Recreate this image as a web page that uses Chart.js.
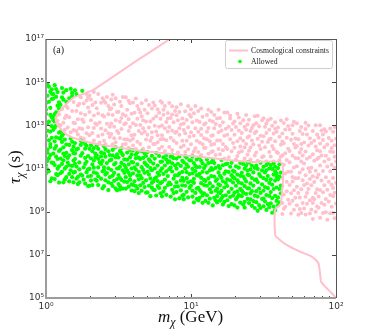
<!DOCTYPE html>
<html lang="en">
<head>
<meta charset="UTF-8">
<title>Lifetime vs mass scan</title>
<style>
  html, body { margin: 0; padding: 0; background: #fff; }
  #wrap { width: 374px; height: 336px; }
</style>
<script src="https://cdn.jsdelivr.net/npm/chart.js"></script>
</head>
<body>
<div id="wrap"><canvas id="chart" width="374" height="336"></canvas></div>
<script>
// axis ticks
const xTicks = [1, 10, 100];
const xTickLabels = ['10⁰', '10¹', '10²'];
const yTicks = [1e5, 1e7, 1e9, 1e11, 1e13, 1e15, 1e17];
const yTickLabels = ['10⁵', '10⁷', '10⁹', '10¹¹', '10¹³', '10¹⁵', '10¹⁷'];

// cosmological constraint curve (GeV, s)
const cosmoMass = [7.16, 3.98, 2.12, 1.55, 1.32, 1.22, 1.17, 1.19, 1.26, 1.41, 1.55, 2.0, 2.63, 3.98, 6.3, 11.5, 18.6, 26.9, 42.2, 41.7, 38.0, 38.0, 39.0, 45.7, 56.5, 68, 75.5, 77.6, 78.9, 84, 93.3, 100];
const cosmoTau = [1e17, 7.6e15, 4.4e14, 1.9e14, 7.1e13, 4e13, 2e13, 1.1e13, 7e12, 3.5e12, 2.6e12, 1.6e12, 1.12e12, 7.4e11, 5.2e11, 3.5e11, 2.4e11, 2.0e11, 1.8e11, 2.45e9, 1.2e9, 8.5e7, 6.6e7, 2.9e7, 1.4e7, 8.3e6, 4.2e6, 1.4e6, 5.75e5, 3.4e5, 1.7e5, 1e5];

// scan points, [log10(m / GeV), log10(tau / s)]
const allowedLog = [
[0.03,10.41],[0.04,10.54],[0.00,10.78],[0.02,10.87],[0.01,10.96],[0.00,11.15],[0.04,11.27],[0.01,11.35],[0.02,11.48],[0.03,11.62],[0.01,11.73],[0.01,11.88],[0.03,12.00],[0.03,12.13],[0.02,12.31],[0.04,12.42],[0.00,12.51],[0.03,12.71],[0.01,12.75],[0.04,12.96],[0.01,13.08],[0.02,13.17],[0.04,13.38],[0.03,13.48],[0.00,13.53],[0.00,13.72],[0.03,13.81],[0.00,14.03],[0.02,14.09],[0.04,14.22],[0.01,14.37],[0.04,14.46],[0.03,14.56],[0.04,14.67],[0.02,14.79],[0.01,14.90],
[0.09,10.35],[0.06,10.51],[0.08,10.69],[0.07,10.74],[0.08,10.99],[0.09,11.10],[0.06,11.16],[0.05,11.26],[0.08,11.44],[0.07,11.55],[0.05,11.69],[0.09,11.81],[0.06,11.92],[0.07,12.04],[0.06,12.26],[0.09,12.40],[0.07,12.44],[0.09,12.66],[0.05,12.79],[0.06,12.89],[0.07,12.99],[0.06,13.18],[0.05,13.25],[0.05,13.42],[0.06,13.52],[0.07,13.60],[0.09,13.77],[0.08,13.91],[0.09,14.07],[0.05,14.24],[0.07,14.32],[0.05,14.45],[0.08,14.54],[0.07,14.68],[0.06,14.86],
[0.12,10.36],[0.13,10.49],[0.14,10.60],[0.10,10.78],[0.11,10.84],[0.13,10.99],[0.14,11.08],[0.11,11.21],[0.12,11.38],[0.10,11.46],[0.13,11.58],[0.12,11.69],[0.14,11.73],[0.10,11.88],[0.12,11.98],[0.14,12.11],[0.11,12.23],[0.13,12.34],[0.10,12.40],[0.11,12.51],[0.12,12.60],[0.10,12.70],[0.10,13.95],[0.14,14.09],[0.12,14.19],[0.11,14.30],[0.12,14.52],[0.14,14.63],[0.11,14.73],
[0.19,10.36],[0.16,10.40],[0.18,10.60],[0.16,10.75],[0.19,10.81],[0.17,10.92],[0.18,11.12],[0.16,11.15],[0.15,11.27],[0.19,11.37],[0.15,11.49],[0.16,11.61],[0.19,11.71],[0.18,11.85],[0.19,12.01],[0.16,12.09],[0.18,12.24],[0.17,12.39],[0.16,14.25],[0.18,14.36],[0.18,14.50],[0.17,14.69],
[0.22,10.28],[0.23,10.36],[0.21,10.53],[0.22,10.61],[0.24,10.72],[0.20,10.84],[0.23,10.96],[0.21,11.09],[0.20,11.22],[0.23,11.28],[0.20,11.44],[0.24,11.59],[0.20,11.70],[0.21,11.87],[0.22,11.92],[0.24,12.09],[0.20,12.18],[0.24,12.29],[0.21,14.45],[0.20,14.62],
[0.29,10.19],[0.27,10.30],[0.26,10.48],[0.29,10.63],[0.25,10.67],[0.28,10.83],[0.29,10.96],[0.26,11.05],[0.27,11.21],[0.28,11.31],[0.27,11.49],[0.29,11.58],[0.25,11.71],[0.27,11.92],[0.28,12.05],[0.27,12.14],[0.25,12.24],[0.25,14.60],
[0.30,10.20],[0.32,10.23],[0.31,10.44],[0.34,10.49],[0.31,10.66],[0.33,10.82],[0.30,10.98],[0.33,11.04],[0.32,11.19],[0.33,11.37],[0.31,11.47],[0.34,11.53],[0.34,11.69],[0.32,11.80],[0.30,11.91],[0.33,11.95],[0.31,12.08],
[0.39,10.08],[0.36,10.23],[0.35,10.43],[0.38,10.53],[0.36,10.64],[0.35,10.78],[0.39,10.87],[0.36,11.05],[0.38,11.21],[0.37,11.29],[0.39,11.35],[0.36,11.45],[0.38,11.56],[0.35,11.61],[0.38,11.75],[0.36,11.91],[0.35,12.07],
[0.43,10.00],[0.40,10.18],[0.43,10.36],[0.41,10.45],[0.44,10.60],[0.41,10.72],[0.42,10.79],[0.40,10.90],[0.43,11.01],[0.40,11.05],[0.42,11.25],[0.44,11.37],[0.41,11.55],[0.44,11.62],[0.40,11.70],[0.43,11.80],[0.41,11.90],[0.40,12.03],
[0.49,9.99],[0.48,10.08],[0.46,10.19],[0.45,10.30],[0.47,10.43],[0.49,10.51],[0.46,10.67],[0.47,10.80],[0.45,10.93],[0.49,11.00],[0.47,11.19],[0.48,11.25],[0.45,11.41],[0.48,11.52],[0.46,11.61],[0.49,11.65],[0.46,11.86],[0.48,11.98],
[0.51,10.03],[0.53,10.07],[0.51,10.18],[0.50,10.28],[0.54,10.39],[0.52,10.47],[0.51,10.56],[0.50,10.70],[0.54,10.80],[0.53,10.92],[0.50,11.00],[0.51,11.08],[0.54,11.16],[0.52,11.26],[0.54,11.42],[0.50,11.51],[0.53,11.62],[0.52,11.72],[0.51,11.81],[0.52,11.93],
[0.59,9.98],[0.55,10.07],[0.57,10.16],[0.59,10.26],[0.56,10.37],[0.58,10.48],[0.55,10.60],[0.58,10.67],[0.57,10.80],[0.56,10.90],[0.59,11.00],[0.55,11.04],[0.57,11.19],[0.59,11.30],[0.56,11.41],[0.58,11.52],[0.59,11.65],[0.56,11.74],[0.58,11.86],
[0.64,9.86],[0.61,9.95],[0.63,10.07],[0.62,10.19],[0.60,10.24],[0.61,10.41],[0.64,10.50],[0.63,10.67],[0.60,10.77],[0.64,10.85],[0.62,10.95],[0.61,11.05],[0.63,11.19],[0.60,11.28],[0.62,11.47],[0.64,11.50],[0.62,11.64],[0.63,11.75],[0.60,11.84],
[0.69,9.88],[0.66,9.97],[0.68,10.14],[0.65,10.22],[0.67,10.33],[0.69,10.45],[0.66,10.55],[0.65,10.67],[0.68,10.80],[0.67,10.94],[0.66,11.06],[0.69,11.18],[0.68,11.27],[0.65,11.44],[0.67,11.49],[0.69,11.58],[0.68,11.69],[0.66,11.80],
[0.72,9.72],[0.70,9.89],[0.74,10.01],[0.73,10.11],[0.71,10.20],[0.73,10.33],[0.74,10.40],[0.72,10.54],[0.71,10.72],[0.70,10.85],[0.73,10.92],[0.72,11.02],[0.70,11.12],[0.74,11.23],[0.72,11.33],[0.71,11.42],[0.73,11.59],[0.70,11.76],
[0.76,9.75],[0.79,9.85],[0.75,10.00],[0.78,10.10],[0.77,10.19],[0.79,10.32],[0.77,10.42],[0.75,10.53],[0.76,10.59],[0.78,10.70],[0.77,10.80],[0.79,10.89],[0.75,11.00],[0.77,11.14],[0.79,11.31],[0.75,11.46],[0.78,11.58],[0.76,11.72],
[0.80,9.71],[0.83,9.78],[0.81,9.93],[0.82,10.10],[0.84,10.23],[0.80,10.37],[0.82,10.48],[0.84,10.65],[0.81,10.75],[0.83,10.87],[0.80,11.01],[0.82,11.14],[0.84,11.27],[0.80,11.32],[0.83,11.42],[0.81,11.52],[0.83,11.62],
[0.89,9.57],[0.86,9.70],[0.88,9.86],[0.87,10.01],[0.89,10.16],[0.86,10.27],[0.85,10.35],[0.88,10.53],[0.89,10.68],[0.87,10.86],[0.85,10.97],[0.86,11.04],[0.89,11.14],[0.87,11.24],[0.85,11.33],[0.88,11.48],[0.86,11.55],[0.87,11.64],
[0.92,9.62],[0.94,9.74],[0.90,9.91],[0.93,9.99],[0.91,10.17],[0.94,10.22],[0.90,10.36],[0.93,10.44],[0.94,10.57],[0.91,10.69],[0.92,10.77],[0.94,10.84],[0.90,10.99],[0.93,11.12],[0.91,11.22],[0.94,11.36],[0.90,11.46],[0.92,11.56],
[0.95,9.58],[0.98,9.66],[0.95,9.78],[0.97,9.92],[0.99,10.10],[0.96,10.20],[0.98,10.36],[0.95,10.43],[0.97,10.55],[0.99,10.74],[0.97,10.83],[0.96,11.00],[0.98,11.08],[0.97,11.19],[0.95,11.29],[0.99,11.38],[0.97,11.50],[0.96,11.58],
[1.02,9.43],[1.04,9.59],[1.01,9.70],[1.03,9.87],[1.01,9.97],[1.04,10.07],[1.00,10.20],[1.02,10.33],[1.00,10.41],[1.02,10.52],[1.04,10.69],[1.01,10.78],[1.03,10.88],[1.01,10.98],[1.04,11.06],[1.03,11.12],[1.02,11.25],[1.00,11.37],[1.04,11.42],[1.01,11.55],
[1.08,9.41],[1.05,9.52],[1.06,9.64],[1.08,9.75],[1.09,9.85],[1.07,9.91],[1.06,10.00],[1.05,10.10],[1.09,10.23],[1.07,10.32],[1.09,10.47],[1.07,10.57],[1.05,10.67],[1.06,10.75],[1.08,10.85],[1.09,11.02],[1.06,11.07],[1.08,11.24],[1.07,11.36],[1.06,11.51],
[1.12,9.41],[1.10,9.50],[1.13,9.60],[1.11,9.76],[1.14,9.90],[1.13,10.04],[1.11,10.20],[1.13,10.32],[1.10,10.42],[1.12,10.54],[1.14,10.65],[1.11,10.81],[1.13,10.91],[1.14,11.02],[1.10,11.13],[1.12,11.25],[1.14,11.29],[1.11,11.42],
[1.15,9.29],[1.18,9.43],[1.17,9.53],[1.16,9.64],[1.18,9.72],[1.19,9.90],[1.17,9.97],[1.18,10.07],[1.15,10.17],[1.19,10.27],[1.17,10.42],[1.18,10.50],[1.16,10.62],[1.19,10.82],[1.15,10.95],[1.17,11.03],[1.19,11.11],[1.16,11.25],[1.15,11.38],
[1.22,9.33],[1.23,9.45],[1.20,9.51],[1.21,9.62],[1.22,9.72],[1.24,9.76],[1.20,9.86],[1.21,9.96],[1.23,10.12],[1.20,10.22],[1.24,10.33],[1.22,10.41],[1.21,10.57],[1.20,10.66],[1.23,10.76],[1.24,10.87],[1.20,11.01],[1.22,11.15],[1.24,11.20],[1.21,11.39],
[1.26,9.26],[1.28,9.35],[1.25,9.53],[1.27,9.68],[1.29,9.74],[1.26,9.91],[1.28,10.06],[1.25,10.19],[1.29,10.35],[1.27,10.45],[1.25,10.50],[1.29,10.60],[1.28,10.69],[1.26,10.84],[1.29,10.89],[1.27,11.08],[1.25,11.23],[1.28,11.27],
[1.32,9.19],[1.30,9.29],[1.34,9.42],[1.31,9.57],[1.32,9.67],[1.33,9.77],[1.30,9.88],[1.32,9.94],[1.34,10.06],[1.31,10.20],[1.33,10.35],[1.32,10.45],[1.30,10.55],[1.34,10.66],[1.32,10.72],[1.30,10.85],[1.33,11.04],[1.31,11.10],[1.34,11.26],
[1.37,9.19],[1.36,9.33],[1.37,9.46],[1.39,9.59],[1.35,9.72],[1.38,9.82],[1.36,9.88],[1.35,9.98],[1.39,10.08],[1.37,10.18],[1.35,10.31],[1.38,10.40],[1.37,10.52],[1.36,10.63],[1.39,10.71],[1.35,10.80],[1.39,10.90],[1.37,10.99],[1.38,11.13],[1.36,11.21],[1.39,11.29],
[1.44,9.17],[1.42,9.27],[1.40,9.40],[1.43,9.49],[1.41,9.57],[1.44,9.74],[1.41,9.85],[1.42,9.95],[1.40,10.08],[1.43,10.21],[1.41,10.31],[1.44,10.47],[1.42,10.56],[1.40,10.69],[1.43,10.82],[1.41,10.96],[1.44,11.03],[1.42,11.13],[1.40,11.27],
[1.46,9.04],[1.48,9.17],[1.47,9.30],[1.45,9.44],[1.49,9.59],[1.46,9.70],[1.48,9.87],[1.45,9.95],[1.47,10.07],[1.49,10.26],[1.46,10.37],[1.45,10.50],[1.48,10.64],[1.47,10.74],[1.49,10.91],[1.46,10.98],[1.45,11.13],[1.48,11.27],
[1.52,9.08],[1.54,9.21],[1.50,9.25],[1.53,9.35],[1.51,9.48],[1.50,9.61],[1.54,9.73],[1.52,9.77],[1.50,9.97],[1.53,10.09],[1.51,10.14],[1.54,10.33],[1.52,10.47],[1.50,10.55],[1.53,10.65],[1.51,10.82],[1.52,10.92],[1.54,11.00],[1.50,11.08],[1.52,11.16],[1.53,11.25],
[1.56,8.95],[1.58,9.07],[1.57,9.24],[1.55,9.38],[1.59,9.50],[1.56,9.63],[1.58,9.73],[1.55,9.91],[1.57,10.05],[1.59,10.12],[1.56,10.25],[1.58,10.44],[1.55,10.50],[1.59,10.61],[1.57,10.72],[1.59,10.77],[1.58,10.88],[1.56,10.98],[1.58,11.08],[1.55,11.16],[1.57,11.24],
[1.60,9.30],[1.61,9.43],[1.60,9.66],[1.62,9.85],[1.61,10.05],[1.62,10.21],[1.60,10.50],[1.61,10.62],[1.62,10.81],[1.60,11.02],[1.61,11.20]
];

const excludedLog = [
[0.08,13.20],[0.09,13.50],[0.09,13.03],
[0.13,12.80],[0.12,13.12],[0.13,13.34],[0.14,13.46],[0.11,13.74],[0.10,13.00],[0.14,13.88],
[0.17,12.68],[0.19,12.78],[0.15,12.90],[0.19,13.12],[0.16,13.38],[0.18,13.66],[0.15,13.80],[0.19,14.08],
[0.24,12.44],[0.22,12.58],[0.21,12.74],[0.23,12.86],[0.20,13.10],[0.22,13.28],[0.24,13.56],[0.21,13.66],[0.22,13.92],[0.23,14.00],[0.24,14.30],
[0.26,12.39],[0.28,12.63],[0.25,12.83],[0.29,12.91],[0.26,13.15],[0.25,13.27],[0.27,13.49],[0.29,13.83],[0.26,14.01],[0.28,14.15],[0.29,14.29],[0.28,14.45],
[0.33,12.30],[0.30,12.54],[0.32,12.64],[0.33,12.88],[0.34,13.08],[0.31,13.24],[0.33,13.46],[0.30,13.62],[0.32,13.94],[0.34,14.06],[0.31,14.20],[0.30,14.38],[0.33,14.54],
[0.37,12.21],[0.36,12.51],[0.39,12.57],[0.38,12.85],[0.35,13.03],[0.37,13.13],[0.39,13.47],[0.36,13.55],[0.35,13.79],[0.38,14.05],[0.39,14.25],[0.36,14.45],
[0.41,12.13],[0.40,12.29],[0.44,12.46],[0.43,12.63],[0.41,12.77],[0.44,12.93],[0.42,13.07],[0.40,13.41],[0.43,13.51],[0.44,13.75],[0.43,13.90],[0.41,14.05],[0.40,14.13],[0.42,14.31],
[0.46,12.12],[0.48,12.22],[0.47,12.40],[0.45,12.60],[0.49,12.74],[0.47,12.94],[0.45,13.08],[0.48,13.24],[0.46,13.48],[0.49,13.62],[0.45,13.78],[0.47,13.96],[0.45,14.20],[0.48,14.26],[0.46,14.42],
[0.53,12.11],[0.54,12.35],[0.51,12.41],[0.50,12.65],[0.52,12.83],[0.54,13.05],[0.51,13.17],[0.52,13.34],[0.53,13.51],[0.50,13.63],[0.52,13.89],[0.51,14.09],[0.53,14.31],
[0.57,11.96],[0.55,12.14],[0.58,12.30],[0.56,12.34],[0.59,12.54],[0.57,12.74],[0.58,12.92],[0.55,13.10],[0.57,13.28],[0.55,13.44],[0.59,13.54],[0.56,13.72],[0.58,14.02],[0.57,14.14],[0.55,14.30],
[0.62,11.90],[0.60,12.07],[0.63,12.24],[0.60,12.38],[0.61,12.56],[0.64,12.74],[0.62,13.02],[0.60,13.10],[0.63,13.30],[0.61,13.58],[0.64,13.74],[0.63,13.90],[0.60,14.06],[0.62,14.24],
[0.67,11.92],[0.65,12.14],[0.69,12.34],[0.66,12.62],[0.68,12.70],[0.67,12.86],[0.65,13.02],[0.69,13.18],[0.67,13.24],[0.66,13.42],[0.65,13.60],[0.68,13.72],[0.66,14.02],[0.69,14.16],
[0.71,11.98],[0.74,12.14],[0.72,12.28],[0.73,12.42],[0.70,12.56],[0.73,12.68],[0.71,12.90],[0.72,13.18],[0.74,13.30],[0.70,13.56],[0.73,13.78],[0.71,13.94],[0.74,14.06],
[0.78,11.92],[0.75,12.14],[0.77,12.22],[0.79,12.36],[0.77,12.54],[0.76,12.72],[0.78,12.94],[0.75,12.98],[0.79,13.30],[0.76,13.42],[0.78,13.58],[0.77,13.75],[0.75,13.92],[0.79,14.12],
[0.82,11.81],[0.80,12.01],[0.83,12.31],[0.81,12.37],[0.80,12.54],[0.84,12.71],[0.82,12.87],[0.80,12.99],[0.83,13.15],[0.84,13.32],[0.81,13.49],[0.84,13.57],[0.81,13.72],[0.82,13.89],[0.80,14.05],
[0.87,11.86],[0.85,12.00],[0.88,12.28],[0.86,12.42],[0.89,12.66],[0.87,12.76],[0.85,12.92],[0.88,13.14],[0.86,13.34],[0.87,13.50],[0.89,13.66],[0.87,13.88],[0.85,14.04],
[0.91,11.74],[0.93,11.98],[0.90,12.18],[0.94,12.28],[0.92,12.56],[0.90,12.70],[0.92,12.87],[0.93,13.04],[0.91,13.24],[0.94,13.32],[0.90,13.47],[0.92,13.62],[0.90,13.84],[0.93,13.98],
[0.96,11.77],[0.98,11.89],[0.95,12.07],[0.97,12.29],[0.99,12.47],[0.96,12.63],[0.95,12.78],[0.98,12.91],[0.95,13.09],[0.97,13.25],[0.99,13.49],[0.96,13.65],[0.98,13.89],
[1.01,11.64],[1.02,11.80],[1.03,11.94],[1.00,12.12],[1.04,12.28],[1.02,12.52],[1.00,12.68],[1.03,12.86],[1.01,13.14],[1.04,13.22],[1.00,13.40],[1.02,13.56],[1.00,13.74],[1.03,13.90],
[1.07,11.62],[1.05,11.76],[1.09,11.95],[1.08,12.12],[1.06,12.20],[1.09,12.40],[1.07,12.55],[1.05,12.70],[1.07,12.84],[1.09,13.04],[1.06,13.16],[1.08,13.40],[1.05,13.66],[1.07,13.78],
[1.12,11.68],[1.14,11.76],[1.10,11.96],[1.14,12.10],[1.13,12.26],[1.11,12.36],[1.14,12.52],[1.11,12.70],[1.12,12.88],[1.10,13.10],[1.13,13.22],[1.11,13.48],[1.14,13.62],[1.12,13.72],
[1.17,11.62],[1.15,11.80],[1.19,11.90],[1.16,12.14],[1.18,12.30],[1.15,12.54],[1.19,12.68],[1.16,12.86],[1.17,13.06],[1.15,13.18],[1.18,13.32],[1.16,13.48],[1.19,13.72],
[1.23,11.46],[1.20,11.66],[1.22,11.84],[1.24,12.00],[1.22,12.14],[1.20,12.30],[1.23,12.52],[1.21,12.76],[1.24,12.84],[1.20,12.98],[1.22,13.14],[1.20,13.34],[1.23,13.60],
[1.26,11.52],[1.28,11.80],[1.25,11.90],[1.29,12.18],[1.27,12.36],[1.25,12.56],[1.28,12.78],[1.26,12.94],[1.29,13.08],[1.27,13.32],[1.27,13.46],[1.25,13.60],
[1.31,11.42],[1.32,11.58],[1.33,11.74],[1.30,11.96],[1.34,12.02],[1.32,12.26],[1.34,12.40],[1.30,12.56],[1.33,12.76],[1.31,12.92],[1.34,13.10],[1.30,13.18],[1.33,13.36],[1.32,13.54],
[1.37,11.46],[1.39,11.64],[1.35,11.80],[1.37,11.97],[1.38,12.14],[1.36,12.28],[1.39,12.44],[1.35,12.64],[1.38,12.80],[1.37,12.94],[1.39,13.04],[1.36,13.24],[1.38,13.48],
[1.41,11.42],[1.44,11.60],[1.40,11.82],[1.41,11.97],[1.43,12.12],[1.42,12.30],[1.40,12.50],[1.44,12.64],[1.41,12.74],[1.42,12.88],[1.43,13.00],[1.40,13.26],[1.44,13.42],
[1.46,11.36],[1.49,11.52],[1.45,11.74],[1.48,11.90],[1.47,12.06],[1.49,12.24],[1.46,12.38],[1.48,12.52],[1.45,12.72],[1.47,12.96],[1.45,13.10],[1.49,13.24],[1.46,13.44],
[1.52,11.33],[1.50,11.57],[1.54,11.77],[1.51,11.99],[1.53,12.23],[1.54,12.36],[1.50,12.49],[1.52,12.64],[1.54,12.79],[1.51,12.93],[1.52,13.08],[1.53,13.23],[1.50,13.33],
[1.57,11.32],[1.55,11.56],[1.59,11.76],[1.57,11.90],[1.56,12.04],[1.58,12.26],[1.55,12.38],[1.57,12.62],[1.59,12.70],[1.58,12.84],[1.56,12.98],[1.58,13.14],[1.55,13.30],
[1.61,11.38],[1.62,11.55],[1.60,11.72],[1.62,12.10],[1.61,12.47],[1.60,12.90],[1.62,13.22],
[1.63,8.89],[1.64,9.13],[1.65,9.23],[1.63,9.40],[1.67,9.55],[1.64,9.79],[1.66,9.95],[1.63,10.19],[1.66,10.39],[1.63,10.57],[1.65,10.77],[1.67,10.85],[1.64,11.17],[1.66,11.39],[1.63,11.61],[1.65,11.71],[1.67,11.91],[1.64,12.17],[1.63,12.25],[1.66,12.43],[1.63,12.62],[1.65,12.81],[1.67,12.97],[1.64,13.11],[1.66,13.28],
[1.69,8.91],[1.71,9.09],[1.68,9.37],[1.70,9.51],[1.72,9.65],[1.69,9.85],[1.71,9.99],[1.68,10.23],[1.70,10.40],[1.72,10.55],[1.70,10.61],[1.69,10.85],[1.71,11.05],[1.68,11.29],[1.72,11.49],[1.70,11.59],[1.68,11.81],[1.72,11.97],[1.71,12.13],[1.69,12.33],[1.72,12.39],[1.70,12.61],[1.68,12.81],[1.70,13.00],[1.71,13.17],
[1.74,8.86],[1.76,8.94],[1.75,9.12],[1.73,9.30],[1.77,9.40],[1.75,9.66],[1.74,9.86],[1.76,10.04],[1.73,10.16],[1.77,10.46],[1.74,10.56],[1.75,10.82],[1.77,10.96],[1.73,11.10],[1.76,11.32],[1.74,11.48],[1.77,11.60],[1.75,11.74],[1.76,11.90],[1.73,12.04],[1.76,12.14],[1.74,12.36],[1.77,12.60],[1.75,12.74],[1.76,12.92],[1.73,13.10],
[1.79,8.87],[1.82,8.91],[1.78,9.15],[1.80,9.37],[1.82,9.53],[1.79,9.69],[1.80,9.87],[1.81,10.05],[1.78,10.23],[1.80,10.31],[1.82,10.51],[1.79,10.69],[1.82,10.85],[1.81,11.01],[1.78,11.23],[1.80,11.45],[1.82,11.53],[1.79,11.79],[1.81,12.07],[1.78,12.20],[1.82,12.40],[1.80,12.58],[1.79,12.83],[1.81,12.99],[1.79,13.12],
[1.84,8.66],[1.86,9.00],[1.83,9.10],[1.87,9.24],[1.84,9.40],[1.85,9.58],[1.84,9.64],[1.86,9.86],[1.87,10.04],[1.83,10.22],[1.85,10.38],[1.87,10.58],[1.84,10.64],[1.86,10.90],[1.83,11.04],[1.85,11.36],[1.87,11.44],[1.84,11.66],[1.87,11.84],[1.86,12.02],[1.83,12.18],[1.85,12.28],[1.87,12.58],[1.84,12.74],[1.86,13.00],
[1.89,8.72],[1.91,8.94],[1.88,9.18],[1.92,9.32],[1.90,9.40],[1.88,9.70],[1.91,9.90],[1.89,10.00],[1.92,10.22],[1.90,10.44],[1.88,10.72],[1.91,10.88],[1.89,11.14],[1.92,11.32],[1.88,11.50],[1.90,11.60],[1.89,11.80],[1.92,11.98],[1.89,12.16],[1.91,12.32],[1.88,12.42],[1.91,12.58],[1.90,12.76],[1.92,12.82],[1.89,13.00],
[1.94,8.63],[1.96,8.93],[1.93,8.97],[1.97,9.23],[1.95,9.47],[1.93,9.59],[1.96,9.77],[1.94,10.01],[1.97,10.25],[1.95,10.39],[1.93,10.59],[1.96,10.87],[1.94,11.09],[1.97,11.17],[1.95,11.43],[1.93,11.59],[1.96,11.79],[1.97,11.95],[1.94,12.11],[1.97,12.29],[1.95,12.41],[1.93,12.71],[1.96,12.85],
[1.99,8.70],[1.98,8.94],[2.00,9.38],[1.98,9.72],[1.99,9.88],[1.98,10.10],[2.00,10.34],[1.98,10.56],[1.99,11.04],[2.00,11.32],[1.99,11.55],[1.98,11.76],[1.99,12.08],[2.00,12.38],[1.98,12.70],[1.99,12.92]
];

const PINK = '#ffc0cb';
const LIME = '#00ff00';
const SERIF = '"Liberation Serif", "Times New Roman", serif';

function toPoints(list) {
  return list.map(([lm, lt]) => ({ x: 10 ** lm, y: 10 ** lt }));
}

// draw a label made of runs with different fonts (for the subscripts)
function drawRuns(ctx, runs, cx, baseY) {
  let total = 0;
  runs.forEach(r => { ctx.font = r.font; r.w = ctx.measureText(r.text).width; total += r.w; });
  let px = cx - total / 2;
  runs.forEach(r => {
    ctx.font = r.font;
    ctx.fillText(r.text, px, baseY + (r.dy || 0));
    px += r.w;
  });
}

const frame = {
  id: 'frame',
  afterDraw(chart) {
    const { ctx, chartArea: a } = chart;
    const xs = chart.scales.x, ys = chart.scales.y;
    ctx.save();

    // inward tick marks
    ctx.strokeStyle = '#444';
    ctx.lineWidth = 1;
    ctx.beginPath();
    xTicks.forEach(v => {
      const p = Math.round(xs.getPixelForValue(v)) + 0.5;
      ctx.moveTo(p, a.bottom); ctx.lineTo(p, a.bottom - 4);
      ctx.moveTo(p, a.top); ctx.lineTo(p, a.top + 4);
    });
    [1, 10].forEach(d => {
      for (let k = 2; k < 10; k++) {
        const p = Math.round(xs.getPixelForValue(k * d)) + 0.5;
        ctx.moveTo(p, a.bottom); ctx.lineTo(p, a.bottom - 2);
        ctx.moveTo(p, a.top); ctx.lineTo(p, a.top + 2);
      }
    });
    yTicks.forEach(v => {
      const p = Math.round(ys.getPixelForValue(v)) + 0.5;
      ctx.moveTo(a.left, p); ctx.lineTo(a.left + 4, p);
      ctx.moveTo(a.right, p); ctx.lineTo(a.right - 4, p);
    });
    ctx.stroke();

    // spines: left/bottom lighter and heavier, top/right thin and dark
    ctx.strokeStyle = '#9c9c9c';
    ctx.lineWidth = 2;
    ctx.beginPath();
    ctx.moveTo(a.left, a.top); ctx.lineTo(a.left, a.bottom); ctx.lineTo(a.right, a.bottom);
    ctx.stroke();
    ctx.strokeStyle = '#555';
    ctx.lineWidth = 1;
    ctx.beginPath();
    ctx.moveTo(a.left, a.top + 0.5); ctx.lineTo(a.right + 0.5, a.top + 0.5); ctx.lineTo(a.right + 0.5, a.bottom);
    ctx.stroke();

    // panel label
    ctx.fillStyle = '#222';
    ctx.textBaseline = 'middle';
    ctx.font = '10px ' + SERIF;
    ctx.fillText('(a)', 53, 50);

    // legend box
    ctx.fillStyle = 'rgba(255,255,255,0.85)';
    ctx.strokeStyle = '#cfcfcf';
    ctx.beginPath();
    ctx.roundRect(225.5, 40.5, 107, 28, 2);
    ctx.fill();
    ctx.stroke();
    ctx.strokeStyle = PINK;
    ctx.lineWidth = 2;
    ctx.beginPath();
    ctx.moveTo(229, 50.5); ctx.lineTo(248, 50.5);
    ctx.stroke();
    ctx.fillStyle = LIME;
    ctx.beginPath();
    ctx.arc(240, 61.5, 1.8, 0, Math.PI * 2);
    ctx.fill();
    ctx.fillStyle = '#222';
    ctx.font = '7.7px ' + SERIF;
    ctx.fillText('Cosmological constraints', 251, 50.5);
    ctx.fillText('Allowed', 251, 61.5);

    // axis titles
    ctx.textBaseline = 'alphabetic';
    ctx.fillStyle = '#111';
    drawRuns(ctx, [
      { text: 'm', font: 'italic 17px ' + SERIF },
      { text: 'χ', font: 'italic 12px ' + SERIF, dy: 4 },
      { text: ' (GeV)', font: '17px ' + SERIF }
    ], 190.5, 322);
    ctx.translate(20, 167);
    ctx.rotate(-Math.PI / 2);
    drawRuns(ctx, [
      { text: 'τ', font: 'italic 17px ' + SERIF },
      { text: 'χ', font: 'italic 12px ' + SERIF, dy: 4 },
      { text: ' (s)', font: '17px ' + SERIF }
    ], 0, 0);
    ctx.restore();
  }
};

const tickFont = { family: '"DejaVu Sans", sans-serif', size: 9 };

new Chart(document.getElementById('chart'), {
  type: 'scatter',
  data: {
    datasets: [
      {
        label: 'Cosmological constraints',
        data: cosmoMass.map((m, i) => ({ x: m, y: cosmoTau[i] })),
        showLine: true,
        borderColor: PINK,
        borderWidth: 2,
        pointRadius: 0,
        tension: 0.2,
        clip: 0
      },
      {
        label: 'Allowed',
        data: toPoints(allowedLog),
        backgroundColor: LIME,
        borderWidth: 0,
        pointRadius: 2.1,
        clip: 0
      },
      {
        label: 'Excluded',
        data: toPoints(excludedLog),
        backgroundColor: PINK,
        borderWidth: 0,
        pointRadius: 2.0,
        clip: 0
      }
    ]
  },
  options: {
    responsive: false,
    animation: false,
    devicePixelRatio: 1,
    events: [],
    layout: { padding: { top: 39, right: 38, left: 0, bottom: 0 } },
    plugins: { legend: { display: false }, tooltip: { enabled: false } },
    scales: {
      x: {
        type: 'logarithmic',
        min: 1,
        max: 100,
        afterBuildTicks: s => { s.ticks = xTicks.map(v => ({ value: v })); },
        afterFit: s => { s.height = 38; },
        grid: { display: false, drawTicks: false },
        border: { display: false },
        ticks: { autoSkip: false, maxRotation: 0, padding: 3, color: '#333', font: tickFont,
                 callback: (v, i) => xTickLabels[i] }
      },
      y: {
        type: 'logarithmic',
        min: 1e5,
        max: 1e17,
        afterBuildTicks: s => { s.ticks = yTicks.map(v => ({ value: v })); },
        afterFit: s => { s.width = 46; },
        grid: { display: false, drawTicks: false },
        border: { display: false },
        ticks: { autoSkip: false, padding: 2, color: '#333', font: tickFont,
                 callback: (v, i) => yTickLabels[i] }
      }
    }
  },
  plugins: [frame]
});
</script>
</body>
</html>
